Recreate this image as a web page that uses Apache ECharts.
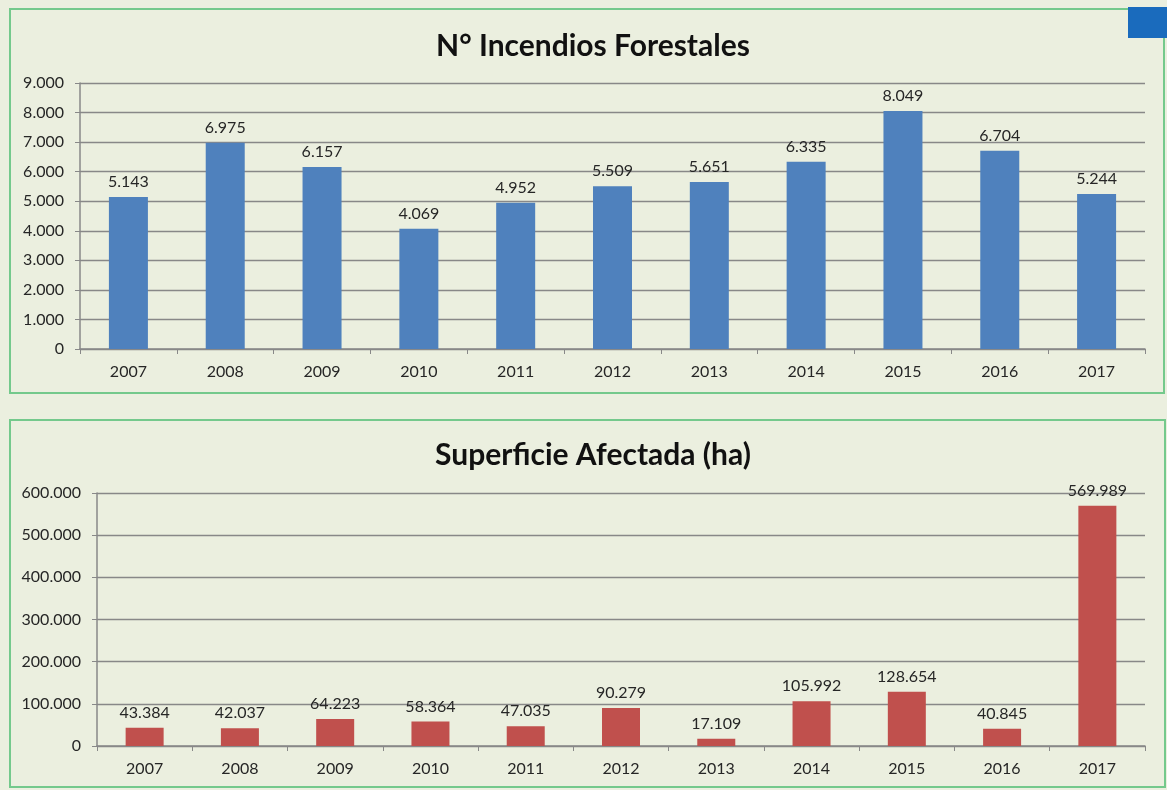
<!DOCTYPE html>
<html>
<head>
<meta charset="utf-8">
<script src="https://cdn.jsdelivr.net/npm/echarts@6/dist/echarts.min.js"></script>
<style>
  html, body { margin: 0; padding: 0; background: #ebefdf; }
  #main { width: 1167px; height: 790px; }
</style>
</head>
<body>
<div id="main"></div>
<script>
const years = ['2007', '2008', '2009', '2010', '2011', '2012', '2013', '2014', '2015', '2016', '2017'];
const incendios = [5143, 6975, 6157, 4069, 4952, 5509, 5651, 6335, 8049, 6704, 5244];
const superficie = [43384, 42037, 64223, 58364, 47035, 90279, 17109, 105992, 128654, 40845, 569989];

// thousands with a dot, like the source
function fmt(v) {
  return String(v).replace(/\B(?=(\d{3})+(?!\d))/g, '.');
}

const font = 'Lato, "Open Sans", sans-serif';
const textColor = '#262626';

function xAxisFor(idx) {
  return {
    type: 'category',
    gridIndex: idx,
    data: years,
    axisLine: { lineStyle: { color: '#888', width: 1.5 } },
    axisTick: { show: true, length: 5, lineStyle: { color: '#888' } },
    axisLabel: { color: textColor, fontSize: 16, fontFamily: font, margin: 15 }
  };
}

function yAxisFor(idx, max, step) {
  return {
    type: 'value',
    gridIndex: idx,
    min: 0,
    max: max,
    interval: step,
    axisLine: { show: true, lineStyle: { color: '#888', width: 1.5 } },
    axisTick: { show: true, length: 5, lineStyle: { color: '#888' } },
    splitLine: { lineStyle: { color: '#888', width: 1.4 } },
    axisLabel: { color: textColor, fontSize: 16, fontFamily: font, margin: 16, formatter: fmt }
  };
}

const chart = echarts.init(document.getElementById('main'));

chart.setOption({
  backgroundColor: '#ebefdf',
  animation: false,
  title: [
    {
      text: 'N° Incendios Forestales',
      left: 588, top: 26, textAlign: 'center',
      textStyle: { fontSize: 30, fontWeight: 'bold', color: '#111', fontFamily: font }
    },
    {
      text: 'Superficie Afectada (ha)',
      left: 588, top: 435, textAlign: 'center',
      textStyle: { fontSize: 30, fontWeight: 'bold', color: '#111', fontFamily: font }
    }
  ],
  graphic: [
    { type: 'rect', shape: { x: 10, y: 9, width: 1154, height: 384 }, style: { fill: null, stroke: '#74c98c', lineWidth: 2 }, z: -1 },
    { type: 'rect', shape: { x: 10, y: 420, width: 1155, height: 367 }, style: { fill: null, stroke: '#74c98c', lineWidth: 2 }, z: -1 },
    { type: 'rect', shape: { x: 1128, y: 7, width: 39, height: 31 }, style: { fill: '#1a6bbd' } }
  ],
  grid: [
    { left: 80, right: 22, top: 83, bottom: 441 },
    { left: 97, right: 22, top: 493, bottom: 44 }
  ],
  xAxis: [xAxisFor(0), xAxisFor(1)],
  yAxis: [yAxisFor(0, 9000, 1000), yAxisFor(1, 600000, 100000)],
  series: [
    {
      type: 'bar',
      xAxisIndex: 0,
      yAxisIndex: 0,
      data: incendios,
      barWidth: 39,
      itemStyle: { color: '#4f81bd' },
      label: {
        show: true, position: 'top', distance: 7,
        color: textColor, fontSize: 16, fontFamily: font,
        formatter: p => fmt(p.value)
      }
    },
    {
      type: 'bar',
      xAxisIndex: 1,
      yAxisIndex: 1,
      data: superficie,
      barWidth: 38,
      itemStyle: { color: '#c0504d' },
      label: {
        show: true, position: 'top', distance: 7,
        color: textColor, fontSize: 16, fontFamily: font,
        formatter: p => fmt(p.value)
      }
    }
  ]
});
</script>
</body>
</html>
